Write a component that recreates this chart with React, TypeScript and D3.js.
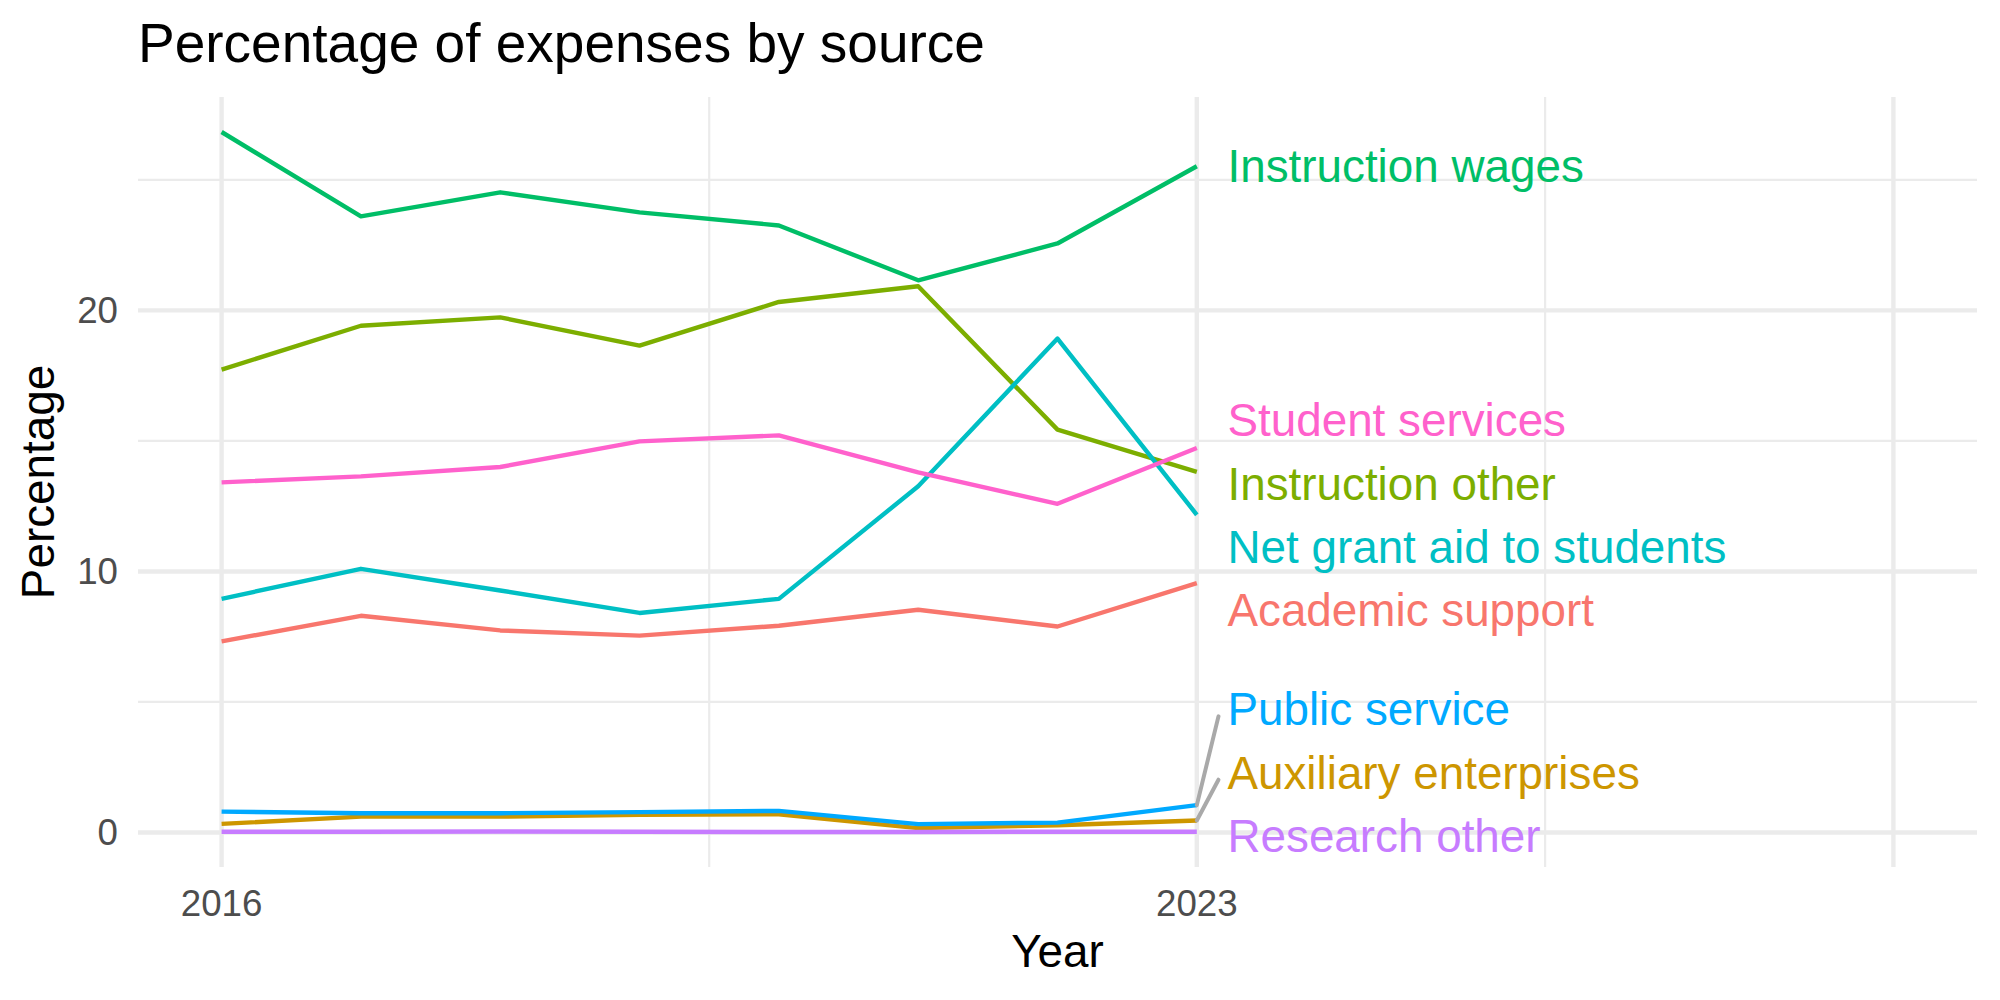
import * as d3 from 'd3';

// years and the share of expenses (%) for each source
const years = [2016, 2017, 2018, 2019, 2020, 2021, 2022, 2023];

const academicSupport = [7.32, 8.3, 7.74, 7.54, 7.92, 8.53, 7.89, 9.55];
const auxiliaryEnterprises = [0.33, 0.61, 0.61, 0.68, 0.7, 0.17, 0.28, 0.46];
const instructionOther = [17.73, 19.41, 19.73, 18.65, 20.32, 20.92, 15.43, 13.81];
const instructionWages = [26.83, 23.6, 24.52, 23.75, 23.25, 21.15, 22.56, 25.52];
const netGrantAid = [8.95, 10.1, 9.27, 8.41, 8.95, 13.26, 18.92, 12.17];
const publicService = [0.8, 0.74, 0.74, 0.78, 0.83, 0.32, 0.38, 1.05];
const researchOther = [0.03, 0.03, 0.04, 0.03, 0.02, 0.02, 0.03, 0.03];
const studentServices = [13.41, 13.64, 14.0, 14.98, 15.21, 13.79, 12.59, 14.73];

const seriesNames = [
  'Academic support',
  'Auxiliary enterprises',
  'Instruction other',
  'Instruction wages',
  'Net grant aid to students',
  'Public service',
  'Research other',
  'Student services',
];
const seriesValues = [
  academicSupport,
  auxiliaryEnterprises,
  instructionOther,
  instructionWages,
  netGrantAid,
  publicService,
  researchOther,
  studentServices,
];
// ggplot default hue palette for 8 groups
const seriesColors = ['#F8766D', '#CD9600', '#7CAE00', '#00BE67', '#00BFC4', '#00A9FF', '#C77CFF', '#FF61CC'];

// x axis: limits run past the data to leave room for the labels
const xLimits = [2016, 2028];
const xBreaks = [2016, 2023, 2028];
const xTickLabels = ['2016', '2023', ''];

const W = 2000;
const H = 1000;
const panel = { left: 138, right: 1977, top: 97, bottom: 867 };
const FONT = '"Liberation Sans", Arial, Helvetica, sans-serif';
const GRID = '#EBEBEB';

const labelSize = 45.8;
const labelGap = 63.3; // vertical spacing between stacked labels
const labelHalf = 31;  // half height of a label box incl. padding

export default function App() {
  const xPad = (xLimits[1] - xLimits[0]) * 0.05;
  const x = d3.scaleLinear()
    .domain([xLimits[0] - xPad, xLimits[1] + xPad])
    .range([panel.left, panel.right]);

  const [yMin, yMax] = d3.extent(seriesValues.flat()) as [number, number];
  const yPad = (yMax - yMin) * 0.05;
  const y = d3.scaleLinear()
    .domain([yMin - yPad, yMax + yPad])
    .range([panel.bottom, panel.top]);

  const yBreaks = d3.ticks(y.domain()[0], y.domain()[1], 3);
  const yStep = yBreaks[1] - yBreaks[0];
  const yMinor = d3.range(yBreaks[0] - yStep / 2, y.domain()[1], yStep)
    .filter(v => v > y.domain()[0] && v < y.domain()[1]);
  const xMinor = xBreaks.slice(1).map((b, i) => (b + xBreaks[i]) / 2);

  const line = d3.line<number>()
    .x((_, i) => x(years[i]))
    .y(v => y(v));

  // end-of-line labels, pushed apart so they don't overlap (simple repel)
  const lastYear = years[years.length - 1];
  const items = seriesNames.map((name, i) => ({
    name,
    color: seriesColors[i],
    target: y(seriesValues[i][seriesValues[i].length - 1]),
    pos: 0,
  })).sort((a, b) => a.target - b.target);

  type Group = { members: typeof items; center: number };
  const groups: Group[] = items.map(it => ({ members: [it], center: it.target }));
  const place = (g: Group) => {
    const n = g.members.length;
    let first = g.center - ((n - 1) / 2) * labelGap;
    const minFirst = panel.top + labelHalf;
    const maxFirst = panel.bottom - labelHalf - (n - 1) * labelGap;
    first = Math.max(minFirst, Math.min(maxFirst, first));
    g.members.forEach((m, k) => { m.pos = first + k * labelGap; });
  };
  groups.forEach(place);
  let merged = true;
  while (merged) {
    merged = false;
    for (let i = 0; i < groups.length - 1; i++) {
      const a = groups[i];
      const b = groups[i + 1];
      if (a.members[a.members.length - 1].pos + labelGap > b.members[0].pos) {
        const members = [...a.members, ...b.members];
        // stack centred on the middle of the span of the targets
        const g = { members, center: (members[0].target + members[members.length - 1].target) / 2 };
        place(g);
        groups.splice(i, 2, g);
        merged = true;
        break;
      }
    }
  }

  const labelX = x(lastYear + 0.22);

  return (
    <svg
      width={W}
      height={H}
      style={{ position: 'absolute', left: 0, top: 0, background: '#fff' }}
      fontFamily={FONT}
    >
      <rect width={W} height={H} fill="#fff" />

      {/* grid */}
      {yMinor.map(v => (
        <line key={'ym' + v} x1={panel.left} x2={panel.right} y1={y(v)} y2={y(v)} stroke={GRID} strokeWidth={2.2} />
      ))}
      {xMinor.map(v => (
        <line key={'xm' + v} x1={x(v)} x2={x(v)} y1={panel.top} y2={panel.bottom} stroke={GRID} strokeWidth={2.2} />
      ))}
      {yBreaks.map(v => (
        <line key={'y' + v} x1={panel.left} x2={panel.right} y1={y(v)} y2={y(v)} stroke={GRID} strokeWidth={4.4} />
      ))}
      {xBreaks.map(v => (
        <line key={'x' + v} x1={x(v)} x2={x(v)} y1={panel.top} y2={panel.bottom} stroke={GRID} strokeWidth={4.4} />
      ))}

      {/* lines */}
      {seriesValues.map((vals, i) => (
        <path
          key={seriesNames[i]}
          d={line(vals) ?? ''}
          fill="none"
          stroke={seriesColors[i]}
          strokeWidth={4.4}
          strokeLinejoin="round"
        />
      ))}

      {/* label leader segments */}
      {items.filter(it => Math.abs(it.pos - it.target) > 44).map(it => (
        <line
          key={'seg' + it.name}
          x1={x(lastYear)}
          y1={it.target}
          x2={labelX - 9}
          y2={it.pos + 7}
          stroke="#A9A9A9"
          strokeWidth={4}
          strokeLinecap="round"
        />
      ))}

      {/* labels */}
      {items.map(it => (
        <text key={'lab' + it.name} x={labelX} y={it.pos + 15.8} fill={it.color} fontSize={labelSize}>
          {it.name}
        </text>
      ))}

      {/* axes text */}
      {yBreaks.map(v => (
        <text key={'yt' + v} x={118} y={y(v) + 12.8} textAnchor="end" fill="#4D4D4D" fontSize={36.7}>
          {d3.format('d')(v)}
        </text>
      ))}
      {xBreaks.map((v, i) => (
        <text key={'xt' + v} x={x(v)} y={916} textAnchor="middle" fill="#4D4D4D" fontSize={36.7}>
          {xTickLabels[i]}
        </text>
      ))}
      <text x={(panel.left + panel.right) / 2} y={967} textAnchor="middle" fill="#000" fontSize={45.8}>
        Year
      </text>
      <text
        transform={`translate(54, ${(panel.top + panel.bottom) / 2}) rotate(-90)`}
        textAnchor="middle"
        fill="#000"
        fontSize={45.8}
      >
        Percentage
      </text>

      {/* title */}
      <text x={panel.left} y={62} fill="#000" fontSize={55}>
        Percentage of expenses by source
      </text>
    </svg>
  );
}
